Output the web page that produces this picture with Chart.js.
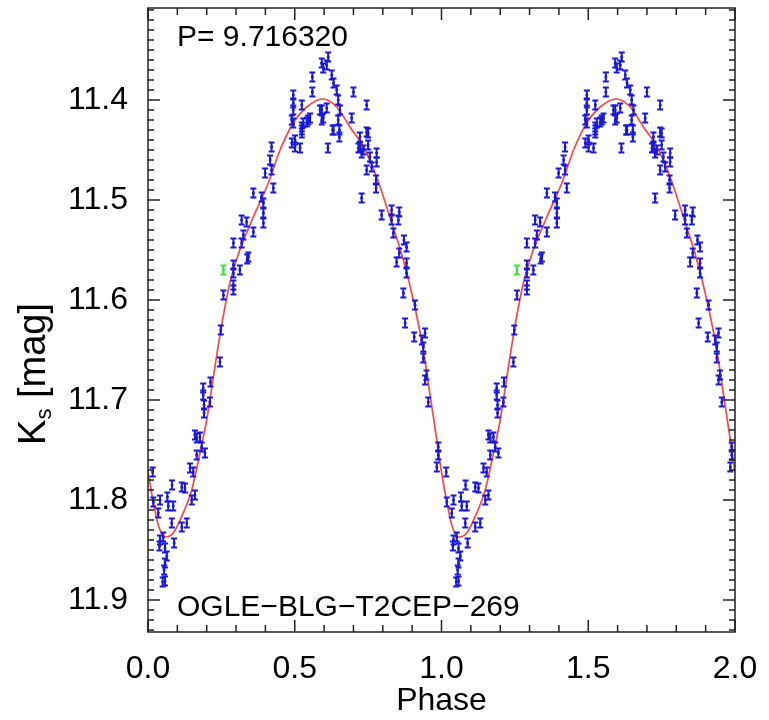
<!DOCTYPE html>
<html>
<head>
<meta charset="utf-8">
<script src="https://cdn.jsdelivr.net/npm/chart.js@4.4.1/dist/chart.umd.min.js"></script>
<style>
  html, body { margin: 0; padding: 0; background: #fff; }
</style>
</head>
<body>
<canvas id="lc" width="769" height="720"></canvas>
<script>
// labels
const periodText = 'P= 9.716320';
const starName = 'OGLE\u2212BLG\u2212T2CEP\u2212269';
const xTicks = [0.0, 0.5, 1.0, 1.5, 2.0];
const yTicks = [11.4, 11.5, 11.6, 11.7, 11.8, 11.9];

const obsPhase = [
  0.016, 0.018, 0.035, 0.041, 0.041, 0.039, 0.052, 0.058, 0.064, 0.058, 0.055, 0.050, 0.058,
  0.066, 0.069, 0.082, 0.086, 0.081, 0.089, 0.115, 0.132, 0.115, 0.126, 0.149, 0.160, 0.143,
  0.154, 0.166, 0.183, 0.194, 0.166, 0.177, 0.160, 0.191, 0.191, 0.211, 0.188, 0.188, 0.213,
  0.245, 0.248, 0.257, 0.291, 0.291, 0.291, 0.313, 0.291, 0.338, 0.291, 0.319, 0.325, 0.319,
  0.336, 0.359, 0.342, 0.393, 0.393, 0.393, 0.387, 0.359, 0.427, 0.399, 0.421, 0.416, 0.421,
  0.490, 0.518, 0.495, 0.524, 0.541, 0.495, 0.495, 0.495, 0.490, 0.524, 0.529, 0.524, 0.546,
  0.501, 0.501, 0.524, 0.552, 0.560, 0.560, 0.592, 0.597, 0.614, 0.609, 0.626, 0.632, 0.643,
  0.586, 0.597, 0.609, 0.592, 0.592, 0.613, 0.648, 0.654, 0.648, 0.632, 0.629, 0.652, 0.652,
  0.700, 0.694, 0.745, 0.750, 0.722, 0.722, 0.734, 0.756, 0.779, 0.779, 0.745, 0.717, 0.728,
  0.750, 0.745, 0.762, 0.777, 0.777, 0.728, 0.796, 0.830, 0.830, 0.856, 0.853, 0.836, 0.872,
  0.881, 0.856, 0.847, 0.881, 0.881, 0.870, 0.910, 0.876, 0.907, 0.933, 0.944, 0.938, 0.938,
  0.949, 0.944, 0.955, 0.989, 0.989, 0.984
];
const obsMag = [
  11.772, 11.802, 11.813, 11.800, 11.840, 11.846, 11.837, 11.848, 11.856, 11.863, 11.870, 11.882, 11.881,
  11.797, 11.806, 11.785, 11.806, 11.823, 11.843, 11.827, 11.823, 11.787, 11.788, 11.800, 11.795, 11.768,
  11.772, 11.755, 11.747, 11.753, 11.738, 11.737, 11.735, 11.713, 11.705, 11.702, 11.695, 11.688, 11.682,
  11.662, 11.630, 11.595, 11.590, 11.585, 11.573, 11.570, 11.565, 11.559, 11.543, 11.543, 11.535, 11.520,
  11.522, 11.532, 11.557, 11.523, 11.513, 11.503, 11.497, 11.493, 11.488, 11.473, 11.470, 11.460, 11.447,
  11.443, 11.448, 11.423, 11.433, 11.422, 11.395, 11.403, 11.410, 11.420, 11.405, 11.423, 11.427, 11.420,
  11.440, 11.447, 11.430, 11.418, 11.377, 11.392, 11.363, 11.368, 11.357, 11.365, 11.375, 11.383, 11.390,
  11.410, 11.418, 11.408, 11.410, 11.420, 11.448, 11.400, 11.410, 11.420, 11.430, 11.430, 11.430, 11.437,
  11.392, 11.418, 11.405, 11.433, 11.437, 11.447, 11.450, 11.457, 11.453, 11.462, 11.432, 11.448, 11.453,
  11.445, 11.470, 11.467, 11.480, 11.488, 11.498, 11.515, 11.510, 11.520, 11.512, 11.520, 11.533, 11.540,
  11.547, 11.553, 11.562, 11.563, 11.573, 11.593, 11.605, 11.623, 11.637, 11.640, 11.633, 11.647, 11.658,
  11.675, 11.680, 11.702, 11.747, 11.755, 11.767
];
// the one green point
const flagPhase = [0.257];
const flagMag = [11.570];
const magErr = 0.0045;

// red model curve, one cycle
const fitPhase = [0.000, 0.018, 0.035, 0.058, 0.086, 0.120, 0.149, 0.177, 0.200, 0.228, 0.251, 0.279,
  0.313, 0.359, 0.410, 0.450, 0.495, 0.541, 0.595, 0.643, 0.688, 0.734, 0.779, 0.824, 0.870, 0.904,
  0.938, 0.961, 0.984, 1.000];
const fitMag = [11.772, 11.802, 11.825, 11.837, 11.833, 11.813, 11.790, 11.753, 11.720, 11.667, 11.625, 11.583,
  11.550, 11.517, 11.483, 11.450, 11.423, 11.407, 11.399, 11.407, 11.427, 11.447, 11.477, 11.517, 11.560, 11.600,
  11.650, 11.695, 11.740, 11.772];

const cycles = [0, 1];
const font = "'Liberation Sans', Arial, Helvetica, sans-serif";

function folded(ph, mg) {
  const out = [];
  cycles.forEach(c => ph.forEach((p, i) => out.push({ x: p + c, y: mg[i] })));
  return out;
}
const fitData = [];
cycles.forEach(c => fitPhase.forEach((p, i) => {
  if (c === 1 && i === 0) return;
  fitData.push({ x: p + c, y: fitMag[i] });
}));

// error bars drawn through the scales
const errorBars = {
  id: 'errorBars',
  afterDatasetsDraw(chart) {
    const ctx = chart.ctx, xs = chart.scales.x, ys = chart.scales.y, a = chart.chartArea;
    ctx.save();
    ctx.beginPath();
    ctx.rect(a.left, a.top, a.right - a.left, a.bottom - a.top);
    ctx.clip();
    chart.data.datasets.forEach(ds => {
      if (!ds.errBar) return;
      ctx.strokeStyle = ds.borderColor;
      ctx.lineWidth = 2;
      ds.data.forEach(d => {
        const px = xs.getPixelForValue(d.x);
        const y1 = ys.getPixelForValue(d.y - magErr);
        const y2 = ys.getPixelForValue(d.y + magErr);
        ctx.beginPath();
        ctx.moveTo(px, y1); ctx.lineTo(px, y2);
        ctx.moveTo(px - 3, y1); ctx.lineTo(px + 3, y1);
        ctx.moveTo(px - 3, y2); ctx.lineTo(px + 3, y2);
        ctx.stroke();
      });
    });
    ctx.restore();
  }
};

// IDL style box with inward ticks on all four sides
const frame = {
  id: 'frame',
  afterDraw(chart) {
    const ctx = chart.ctx, xs = chart.scales.x, ys = chart.scales.y, a = chart.chartArea;
    ctx.save();
    ctx.strokeStyle = '#222';
    ctx.lineWidth = 1.5;
    ctx.strokeRect(a.left, a.top, a.right - a.left, a.bottom - a.top);
    ctx.beginPath();
    for (let k = 0; k <= 20; k++) {
      const v = k / 10;
      const len = k % 5 === 0 ? 12 : 7;
      const px = xs.getPixelForValue(v);
      ctx.moveTo(px, a.bottom); ctx.lineTo(px, a.bottom - len);
      ctx.moveTo(px, a.top); ctx.lineTo(px, a.top + len);
    }
    for (let k = 1131; k <= 1193; k++) {
      const v = k / 100;
      const len = k % 10 === 0 ? 12 : 6;
      const py = ys.getPixelForValue(v);
      ctx.moveTo(a.left, py); ctx.lineTo(a.left + len, py);
      ctx.moveTo(a.right, py); ctx.lineTo(a.right - len, py);
    }
    ctx.stroke();

    // in-plot labels
    ctx.fillStyle = '#000';
    ctx.font = '30px ' + font;
    ctx.textBaseline = 'alphabetic';
    ctx.fillText(periodText, a.left + 29, a.top + 38);
    ctx.fillText(starName, a.left + 29, a.bottom - 16);

    // y title with subscript s
    const yc = 374;
    ctx.translate(45, yc);
    ctx.rotate(-Math.PI / 2);
    ctx.font = '38px ' + font;
    const wK = ctx.measureText('K').width;
    const wRest = ctx.measureText(' [mag]').width;
    ctx.font = '22px ' + font;
    const wS = ctx.measureText('s').width;
    const x0 = -(wK + wS + wRest) / 2;
    ctx.font = '38px ' + font;
    ctx.fillText('K', x0, 0);
    ctx.font = '22px ' + font;
    ctx.fillText('s', x0 + wK, 6);
    ctx.font = '38px ' + font;
    ctx.fillText(' [mag]', x0 + wK + wS, 0);
    ctx.restore();
  }
};

const blue = 'rgb(25,25,215)';
const green = 'rgb(60,225,60)';

new Chart(document.getElementById('lc'), {
  type: 'scatter',
  data: {
    datasets: [
      {
        type: 'line',
        data: fitData,
        borderColor: 'rgb(255,70,70)',
        borderWidth: 1.7,
        pointRadius: 0,
        cubicInterpolationMode: 'monotone',
        fill: false,
        order: 3
      },
      {
        data: folded(obsPhase, obsMag),
        errBar: true,
        borderColor: blue,
        backgroundColor: blue,
        pointRadius: 1.5,
        borderWidth: 0,
        order: 2
      },
      {
        data: folded(flagPhase, flagMag),
        errBar: true,
        borderColor: green,
        backgroundColor: green,
        pointRadius: 1.5,
        borderWidth: 0,
        order: 1
      }
    ]
  },
  options: {
    responsive: false,
    animation: false,
    devicePixelRatio: 1,
    layout: { padding: { top: 8, right: 34, left: 0, bottom: 0 } },
    plugins: { legend: { display: false }, tooltip: { enabled: false } },
    scales: {
      x: {
        type: 'linear',
        min: 0,
        max: 2,
        afterBuildTicks: s => { s.ticks = xTicks.map(v => ({ value: v })); },
        afterFit: s => { s.height = 88; s.paddingLeft = 0; s.paddingRight = 0; },
        grid: { display: false },
        border: { display: false },
        ticks: {
          color: '#000',
          font: { family: font, size: 32 },
          padding: 10,
          maxRotation: 0,
          callback: v => v.toFixed(1)
        },
        title: { display: true, text: 'Phase', color: '#000', font: { family: font, size: 32 }, padding: { top: 0, bottom: 0 } }
      },
      y: {
        type: 'linear',
        reverse: true,
        min: 11.308,
        max: 11.932,
        afterBuildTicks: s => { s.ticks = yTicks.map(v => ({ value: v })); },
        afterFit: s => { s.width = 148; s.paddingTop = 0; s.paddingBottom = 0; },
        grid: { display: false },
        border: { display: false },
        ticks: {
          color: '#000',
          font: { family: font, size: 32 },
          padding: 12,
          callback: v => v.toFixed(1)
        }
      }
    }
  },
  plugins: [errorBars, frame]
});
</script>
</body>
</html>
